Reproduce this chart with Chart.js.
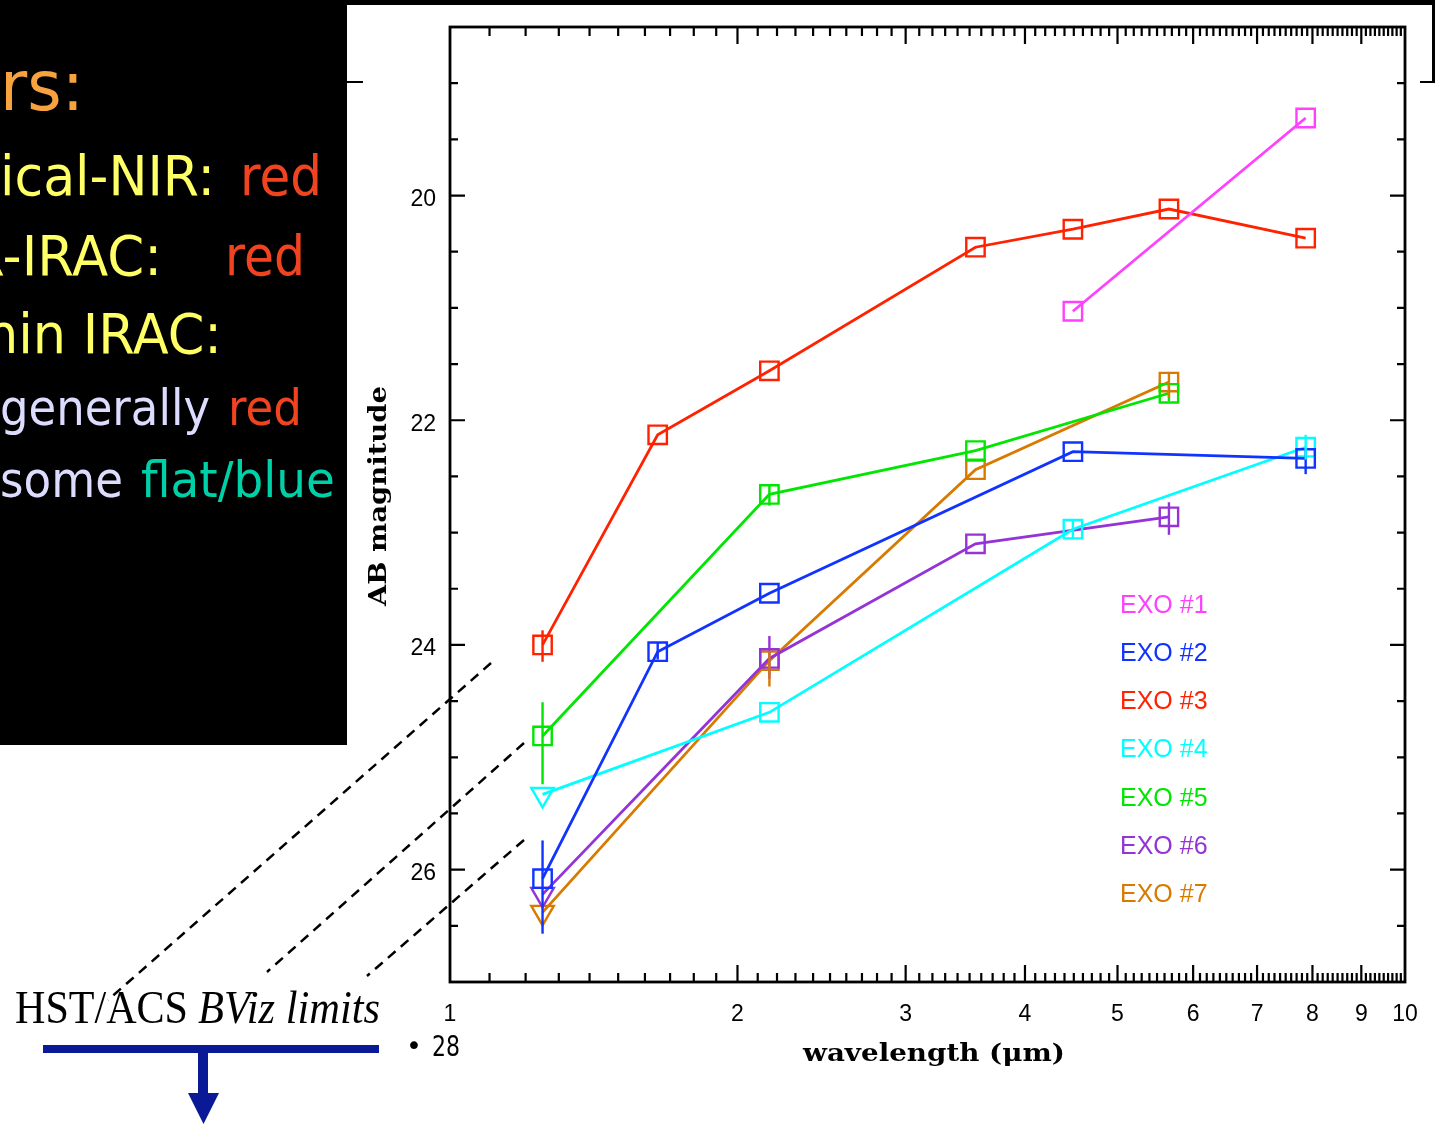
<!DOCTYPE html>
<html>
<head>
<meta charset="utf-8">
<title>EXO sources - AB magnitude vs wavelength</title>
<script src="https://cdn.jsdelivr.net/npm/chart.js@4.4.1/dist/chart.umd.min.js"></script>
<style>
  html, body { margin: 0; padding: 0; background: #fff; }
  #wrap { position: relative; width: 1435px; height: 1125px; overflow: hidden; }
  #sed, #deco { position: absolute; left: 0; top: 0; }
</style>
</head>
<body>
<div id="wrap">
  <canvas id="sed" width="1435" height="1125"></canvas>
  <svg id="deco" width="1435" height="1125" xmlns="http://www.w3.org/2000/svg">
    <!-- slide text box -->
    <rect x="0" y="0" width="347" height="745" fill="#000"/>
    <g font-family="DejaVu Sans">
      <text x="0" y="110" font-size="70" fill="#f7a23f" textLength="84" lengthAdjust="spacingAndGlyphs">rs:</text>
      <text x="0" y="195" font-size="56" fill="#ffff66" textLength="215" lengthAdjust="spacingAndGlyphs">ical-NIR:</text>
      <text x="240" y="195" font-size="56" fill="#f04420" textLength="82" lengthAdjust="spacingAndGlyphs">red</text>
      <text x="-32" y="275" font-size="56" fill="#ffff66" textLength="194" lengthAdjust="spacingAndGlyphs">R-IRAC:</text>
      <text x="225" y="275" font-size="56" fill="#f04420" textLength="80" lengthAdjust="spacingAndGlyphs">red</text>
      <text x="-15" y="353" font-size="56" fill="#ffff66" textLength="237" lengthAdjust="spacingAndGlyphs">hin IRAC:</text>
      <text x="0" y="425" font-size="50" fill="#dcdcff" textLength="210" lengthAdjust="spacingAndGlyphs">generally</text>
      <text x="228" y="425" font-size="50" fill="#f04420" textLength="74" lengthAdjust="spacingAndGlyphs">red</text>
      <text x="0" y="497" font-size="50" fill="#dcdcff" textLength="123" lengthAdjust="spacingAndGlyphs">some</text>
      <text x="141" y="497" font-size="50" fill="#00d0a8" textLength="194" lengthAdjust="spacingAndGlyphs">flat/blue</text>
    </g>
    <!-- outer frame of the wider figure behind -->
    <rect x="340" y="0" width="1095" height="5" fill="#000"/>
    <rect x="1432" y="0" width="3" height="83" fill="#000"/>
    <line x1="1420" y1="82" x2="1434" y2="82" stroke="#000" stroke-width="2"/>
    <line x1="347" y1="82" x2="363" y2="82" stroke="#000" stroke-width="2"/>
    <!-- dashed guides toward the optical limits -->
    <g stroke="#000" stroke-width="2.5" stroke-dasharray="10 7" fill="none">
      <line x1="491" y1="663" x2="108" y2="1000"/>
      <line x1="524" y1="743" x2="267" y2="972"/>
      <line x1="524" y1="840" x2="367" y2="976"/>
    </g>
    <text x="15" y="1023" font-family="Liberation Serif" font-size="47" fill="#000" textLength="173" lengthAdjust="spacingAndGlyphs">HST/ACS</text>
    <text x="198" y="1023" font-family="Liberation Serif" font-style="italic" font-size="47" fill="#000" textLength="182" lengthAdjust="spacingAndGlyphs">BViz limits</text>
    <!-- limit arrow -->
    <g fill="#0a1a96">
      <rect x="43" y="1045" width="336" height="8"/>
      <rect x="198" y="1050" width="10" height="44"/>
      <polygon points="188,1093 219,1093 203.5,1124"/>
    </g>
    <text x="406" y="1055" font-family="DejaVu Sans" font-size="27" fill="#000">•</text>
    <text x="432" y="1056" font-family="DejaVu Sans" font-size="28" fill="#000" textLength="28" lengthAdjust="spacingAndGlyphs">28</text>
  </svg>
</div>
<script>
// bands: J, H, K, IRAC 3.6, 4.5, 5.8, 8.0 (microns)
const wavelengths = [1.25, 1.65, 2.16, 3.55, 4.49, 5.66, 7.87];

const seriesNames = ['EXO #1', 'EXO #2', 'EXO #3', 'EXO #4', 'EXO #5', 'EXO #6', 'EXO #7'];

// AB magnitudes per band (null = not measured)
const exo1 = [null, null, null, null, 21.03, null, 19.31];
const exo2 = [26.08, 24.06, 23.54, null, 22.28, null, 22.34];
const exo3 = [24.00, 22.13, 21.56, 20.46, 20.30, 20.12, 20.38];
const exo4 = [25.33, null, 24.60, null, 22.97, null, 22.24];
const exo5 = [24.81, null, 22.66, 22.27, null, 21.76, null];
const exo6 = [26.22, null, 24.12, 23.10, null, 22.86, null];
const exo7 = [26.38, null, 24.14, 22.44, null, 21.66, null];

// J band only an upper limit for these
const jBandUpperLimit = [false, false, false, true, false, true, true];

// error bars [bright, faint] per band
const exo1Err = [null, null, null, null, null, null, null];
const exo2Err = [[25.74, 26.57], [23.98, 24.13], null, null, null, null, [22.25, 22.48]];
const exo3Err = [[23.87, 24.15], null, null, null, null, null, null];
const exo4Err = [null, null, null, null, [22.88, 23.06], null, [22.13, 22.35]];
const exo5Err = [[24.51, 25.24], null, [22.57, 22.76], null, null, [21.68, 21.83], null];
const exo6Err = [null, null, [23.92, 24.30], null, null, [22.73, 23.02], null];
const exo7Err = [null, null, [24.05, 24.37], null, null, [21.57, 21.80], null];

const xTickValues = [1, 2, 3, 4, 5, 6, 7, 8, 9, 10];
const yTickValues = [20, 22, 24, 26];

const colors = ['#ff40ff', '#1133ff', '#ff2200', '#00ffff', '#00e600', '#9433d6', '#d97a00'];

const mags = [exo1, exo2, exo3, exo4, exo5, exo6, exo7];
const errs = [exo1Err, exo2Err, exo3Err, exo4Err, exo5Err, exo6Err, exo7Err];

const datasets = mags.map((m, s) => {
  const pts = [], styles = [], rots = [];
  m.forEach((v, i) => {
    if (v === null) return;
    pts.push({ x: wavelengths[i], y: v });
    const lim = i === 0 && jBandUpperLimit[s];
    styles.push(lim ? 'triangle' : 'rect');
    rots.push(lim ? 180 : 0);
  });
  return {
    label: seriesNames[s],
    data: pts,
    borderColor: colors[s],
    borderWidth: 2.8,
    pointStyle: styles,
    rotation: rots,
    pointRadius: 13,
    pointBorderWidth: 2.4,
    pointBorderColor: colors[s],
    pointBackgroundColor: 'rgba(0,0,0,0)',
    tension: 0,
    fill: false,
    errors: errs[s]
  };
});

// error bars, legend, inward ticks, frame and axis titles
const sedExtras = {
  id: 'sedExtras',
  afterDatasetsDraw(chart) {
    const { ctx, scales: { x, y } } = chart;
    ctx.save();
    ctx.lineWidth = 2.4;
    chart.data.datasets.forEach(ds => {
      ctx.strokeStyle = ds.borderColor;
      ds.errors.forEach((e, i) => {
        if (!e) return;
        const px = x.getPixelForValue(wavelengths[i]);
        ctx.beginPath();
        ctx.moveTo(px, y.getPixelForValue(e[0]));
        ctx.lineTo(px, y.getPixelForValue(e[1]));
        ctx.stroke();
      });
    });
    ctx.restore();
  },
  afterDraw(chart) {
    const { ctx, chartArea: a, scales: { x, y } } = chart;
    ctx.save();
    ctx.strokeStyle = '#000';
    ctx.lineWidth = 2.2;
    ctx.beginPath();
    // log ticks on top and bottom
    for (let d = 1; d < 10; d++) {
      for (let k = 0; k < 10; k++) {
        if (d === 1 && k === 0) continue;
        const px = x.getPixelForValue(d + k / 10);
        const len = k === 0 ? 17 : 9;
        ctx.moveTo(px, a.bottom); ctx.lineTo(px, a.bottom - len);
        ctx.moveTo(px, a.top); ctx.lineTo(px, a.top + len);
      }
    }
    // magnitude ticks every 0.5 on left and right
    for (let v = 19; v < 27; v += 0.5) {
      const py = y.getPixelForValue(v);
      const len = yTickValues.includes(v) ? 15 : 8;
      ctx.moveTo(a.left, py); ctx.lineTo(a.left + len, py);
      ctx.moveTo(a.right, py); ctx.lineTo(a.right - len, py);
    }
    ctx.stroke();
    ctx.lineWidth = 2.8;
    ctx.strokeRect(a.left, a.top, a.width, a.height);

    // legend
    ctx.font = '25px "Liberation Sans"';
    ctx.textBaseline = 'middle';
    ctx.textAlign = 'left';
    chart.data.datasets.forEach((ds, i) => {
      ctx.fillStyle = ds.borderColor;
      ctx.fillText(ds.label, a.left + 670, a.top + 579 + i * 48.2);
    });

    // axis titles
    ctx.fillStyle = '#000';
    ctx.font = 'bold 24px "DejaVu Serif"';
    ctx.textAlign = 'center';
    ctx.textBaseline = 'alphabetic';
    const xt = 'wavelength (\u03bcm)';
    ctx.save();
    ctx.translate(934, a.bottom + 79);
    ctx.scale(262 / ctx.measureText(xt).width, 1);
    ctx.fillText(xt, 0, 0);
    ctx.restore();
    const yt = 'AB magnitude';
    ctx.save();
    ctx.translate(386, 496);
    ctx.rotate(-Math.PI / 2);
    ctx.scale(220 / ctx.measureText(yt).width, 1);
    ctx.fillText(yt, 0, 0);
    ctx.restore();
    ctx.restore();
  }
};

const tickFont = { family: 'Liberation Sans', size: 23 };

const config = {
  type: 'line',
  data: { datasets },
  options: {
    responsive: false,
    animation: false,
    devicePixelRatio: 1,
    layout: { padding: { left: 355, top: 27, right: 30, bottom: 0 } },
    plugins: { legend: { display: false }, tooltip: { enabled: false } },
    scales: {
      x: {
        type: 'logarithmic',
        min: 1,
        max: 10,
        afterBuildTicks: s => { s.ticks = xTickValues.map(v => ({ value: v })); },
        afterFit: s => { s.height = 143; s.paddingLeft = 0; s.paddingRight = 0; },
        grid: { display: false, drawTicks: false },
        border: { display: false },
        ticks: { color: '#000', font: tickFont, padding: 19, autoSkip: false, maxRotation: 0, callback: v => String(v) }
      },
      y: {
        min: 18.5,
        max: 27,
        reverse: true,
        afterBuildTicks: s => { s.ticks = yTickValues.map(v => ({ value: v })); },
        afterFit: s => { s.width = 95; s.paddingTop = 0; s.paddingBottom = 0; },
        grid: { display: false, drawTicks: false },
        border: { display: false },
        ticks: { color: '#000', font: tickFont, padding: 14, labelOffset: 4, callback: v => String(v) }
      }
    }
  },
  plugins: [sedExtras]
};

const sedChart = new Chart(document.getElementById('sed').getContext('2d'), config);
</script>
</body>
</html>
